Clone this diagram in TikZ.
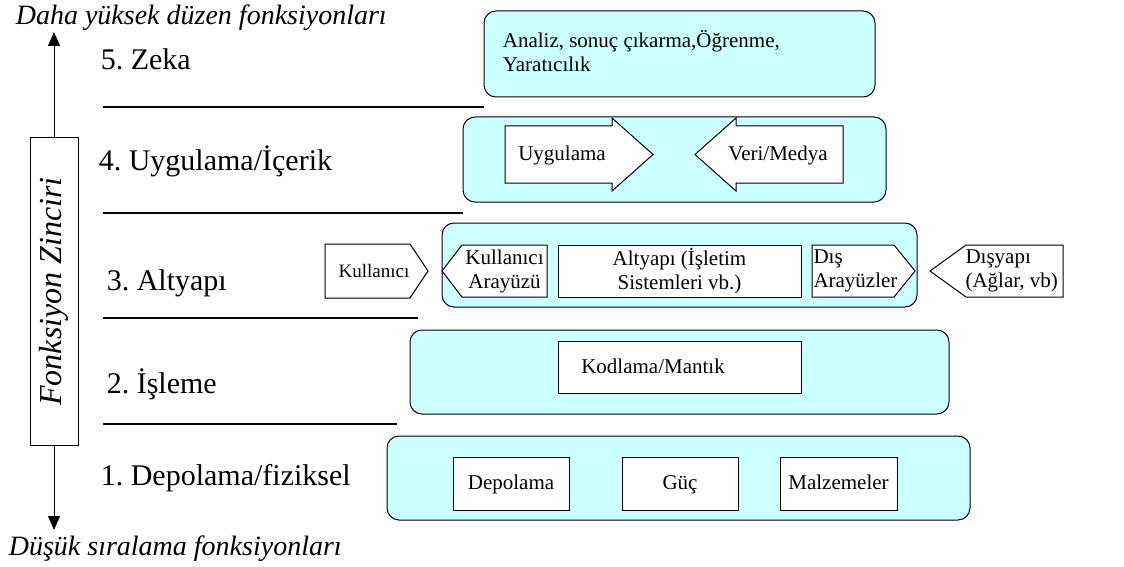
\documentclass[tikz,border=0pt]{standalone}
\usepackage{fontspec}
\setmainfont{Liberation Serif}
\usetikzlibrary{arrows.meta}
\definecolor{acikmavi}{HTML}{CCFFFF}
\frenchspacing

\begin{document}
\begin{tikzpicture}[x=1pt,y=-1pt,
	> = {Triangle[length=14pt,width=12pt]}, % arrow head style
	line width=1pt,
	katman/.style={draw,fill=acikmavi,rounded corners=12pt},
	kutu/.style={draw,fill=white,inner sep=0pt},
	yazi/.style={font=\fontsize{21}{24}\selectfont,align=center},
	tek/.style={text height=14pt,text depth=2pt},
	seviye/.style={anchor=base west,font=\fontsize{30}{32}\selectfont},
	baslik/.style={anchor=base west,font=\itshape\fontsize{28}{30}\selectfont}]
	\useasboundingbox (0,0) rectangle (1124,567);

	% chain on the left
	\node[draw,rotate=90,minimum width=307pt,minimum height=48pt,inner sep=0pt,
		font=\itshape\fontsize{32}{34}\selectfont] (zincir) at (54,291.5) {Fonksiyon Zinciri};
	\coordinate (ust) at (54,32);
	\coordinate (altuc) at (54,530);
	\draw[->] (zincir.east) -- (ust);
	\draw[->] (zincir.west) -- (altuc);
	\node[baslik] (yuksek) at (12,25) {Daha yüksek düzen fonksiyonları};
	\node[baslik] (dusuk) at (5,555) {Düşük sıralama fonksiyonları};

	% levels
	\node[seviye] (s5) at (97,70)  {5. Zeka};
	\node[seviye] (s4) at (95,170) {4. Uygulama/İçerik};
	\node[seviye] (s3) at (103,290) {3. Altyapı};
	\node[seviye] (s2) at (103,393) {2. İşleme};
	\node[seviye] (s1) at (97,485) {1. Depolama/fiziksel};
	\draw[line width=1.3pt] (103,107) -- (484,107);
	\draw[line width=1.3pt] (103,213) -- (463,213);
	\draw[line width=1.3pt] (103,318) -- (418,318);
	\draw[line width=1.3pt] (103,424) -- (397,424);

	% layer boxes
	\draw[katman] (484,11) rectangle (875,97);
	\draw[katman] (463,117) rectangle (886,202);
	\draw[katman] (442,223) rectangle (917,307);
	\draw[katman] (410,330) rectangle (949,414);
	\draw[katman] (387,436) rectangle (970,520);

	% 5
	\node[yazi,align=left,anchor=north west] (analiz) at (499,27) {Analiz, sonuç çıkarma,Öğrenme,\\Yaratıcılık};

	% 4
	\draw[fill=white] (505,126) -- (612,126) -- (612,118) -- (653,154.5) -- (612,191) -- (612,183) -- (505,183) -- cycle;
	\draw[fill=white] (843,126) -- (736,126) -- (736,118) -- (695,154.5) -- (736,191) -- (736,183) -- (843,183) -- cycle;
	\node[yazi,tek] (uyg) at (562,154.5) {Uygulama};
	\node[yazi,tek] (veri) at (778,154.5) {Veri/Medya};

	% 3
	\draw[fill=white] (325,244) -- (410,244) -- (428,271) -- (410,298) -- (325,298) -- cycle;
	\draw[fill=white] (442,271) -- (462,245) -- (547,245) -- (547,297) -- (462,297) -- cycle;
	\draw[fill=white] (812,245) -- (894,245) -- (915,271) -- (894,297) -- (812,297) -- cycle;
	\draw[fill=white] (930,271) -- (966,245) -- (1063,245) -- (1063,297) -- (966,297) -- cycle;
	\node[yazi,tek,font=\fontsize{19}{22}\selectfont] (kul) at (374,271) {Kullanıcı};
	\node[yazi] (kara) at (504.5,271) {Kullanıcı\\Arayüzü};
	\node[kutu,yazi,minimum width=243pt,minimum height=52pt] (altyapi) at (679.5,271) {Altyapı (İşletim\\Sistemleri vb.)};
	\node[yazi,align=left,anchor=west,inner sep=1pt] (dis) at (812,271) {Dış\\Arayüzler};
	\node[yazi,align=left,anchor=west,inner sep=1pt] (disyapi) at (964,271) {Dışyapı\\(Ağlar, vb)};

	% 2
	\node[kutu,minimum width=243pt,minimum height=52pt] (kod) at (679.5,367) {};
	\node[yazi,tek] (kodyazi) at (653,367) {Kodlama/Mantık};

	% 1
	\node[kutu,yazi,tek,minimum width=116pt,minimum height=53pt] (dep) at (511,483.5) {Depolama};
	\node[kutu,yazi,tek,minimum width=116pt,minimum height=53pt] (guc) at (680,483.5) {Güç};
	\node[kutu,yazi,tek,minimum width=117pt,minimum height=53pt] (malz) at (838.5,483.5) {Malzemeler};

\end{tikzpicture}
\end{document}
